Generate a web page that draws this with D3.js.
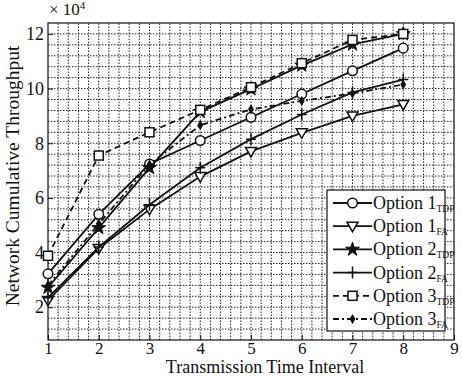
<!DOCTYPE html>
<html>
<head>
<meta charset="utf-8">
<script src="https://cdn.jsdelivr.net/npm/d3@7"></script>
<style>
  body { margin: 0; background: #fff; }
  text { font-family: "Liberation Serif", "DejaVu Serif", serif; fill: #111; }
</style>
</head>
<body>
<div id="chart"></div>
<script>
const intervals = [1, 2, 3, 4, 5, 6, 7, 8];
const opt1Tdp = [3.22, 5.4, 7.24, 8.1, 8.95, 9.8, 10.65, 11.48];
const opt1Fa  = [2.25, 4.15, 5.58, 6.78, 7.7, 8.38, 9.0, 9.42];
const opt2Tdp = [2.72, 4.9, 7.1, 9.15, 9.98, 10.85, 11.62, 12.0];
const opt2Fa  = [2.35, 4.2, 5.75, 7.1, 8.15, 9.05, 9.86, 10.33];
const opt3Tdp = [3.88, 7.55, 8.4, 9.22, 10.05, 10.93, 11.78, 12.0];
const opt3Fa  = [2.8, 5.05, 7.22, 8.66, 9.24, 9.55, 9.82, 10.15];
const xTicks = [1, 2, 3, 4, 5, 6, 7, 8, 9];
const yTicks = [2, 4, 6, 8, 10, 12];

const series = [
    { name: "Option 1", sub: "TDP", values: opt1Tdp, marker: "circle", dash: null },
    { name: "Option 1", sub: "FA", values: opt1Fa, marker: "tri", dash: null },
    { name: "Option 2", sub: "TDP", values: opt2Tdp, marker: "star", dash: null },
    { name: "Option 2", sub: "FA", values: opt2Fa, marker: "plus", dash: null },
    { name: "Option 3", sub: "TDP", values: opt3Tdp, marker: "square", dash: "6,4" },
    { name: "Option 3", sub: "FA", values: opt3Fa, marker: "diamond", dash: "6,3,2,3" }
];

const width = 462, height = 376;
const margin = { left: 48, right: 8, top: 23, bottom: 36 };

const svg = d3.select("#chart").append("svg")
    .attr("width", width)
    .attr("height", height);

const x = d3.scaleLinear().domain([1, 9]).range([margin.left, width - margin.right]);
const y = d3.scaleLinear().domain([0.8, 12.4]).range([height - margin.bottom, margin.top]);

// dotted grid
const grid = svg.append("g");
grid.selectAll("line.gx")
    .data(d3.range(1.2, 9, 0.2))
    .enter().append("line")
    .attr("x1", d => x(d)).attr("x2", d => x(d))
    .attr("y1", y(0.8)).attr("y2", y(12.4))
    .attr("stroke", "#222").attr("stroke-width", 1)
    .attr("stroke-dasharray", "1.5,1.5");
grid.selectAll("line.gy")
    .data(d3.range(1.2, 12.4, 0.4))
    .enter().append("line")
    .attr("x1", x(1)).attr("x2", x(9))
    .attr("y1", d => y(d)).attr("y2", d => y(d))
    .attr("stroke", "#222").attr("stroke-width", 1)
    .attr("stroke-dasharray", "1.5,1.5");

// axes
svg.append("g")
    .attr("transform", `translate(0,${y(0.8)})`)
    .call(d3.axisBottom(x).tickValues(xTicks).tickSize(-5).tickPadding(2).tickFormat(d3.format("d")))
    .call(g => g.select(".domain").remove())
    .call(g => g.selectAll("line").attr("stroke", "#111"))
    .call(g => g.selectAll("text").style("font-size", "17px"));

svg.append("g")
    .attr("transform", `translate(${x(1)},0)`)
    .call(d3.axisLeft(y).tickValues(yTicks).tickSize(-5).tickPadding(4).tickFormat(d3.format("d")))
    .call(g => g.select(".domain").remove())
    .call(g => g.selectAll("line").attr("stroke", "#111"))
    .call(g => g.selectAll("text").style("font-size", "18px"));

svg.append("rect")
    .attr("x", x(1)).attr("y", y(12.4))
    .attr("width", x(9) - x(1)).attr("height", y(0.8) - y(12.4))
    .attr("fill", "none").attr("stroke", "#111").attr("stroke-width", 1.2);

// exponent
const expo = svg.append("text").attr("x", 49).attr("y", 15).style("font-size", "17px");
expo.append("tspan").text("× 10");
expo.append("tspan").attr("dy", -6).style("font-size", "11px").text("4");

// axis titles
svg.append("text")
    .attr("x", 265).attr("y", 373)
    .attr("text-anchor", "middle").style("font-size", "18px")
    .text("Transmission Time Interval");
svg.append("text")
    .attr("transform", "translate(19,176) rotate(-90)")
    .attr("text-anchor", "middle").style("font-size", "19.5px")
    .text("Network Cumulative Throughput");

function drawMarker(g, type) {
    if (type === "circle") {
        g.append("circle").attr("r", 4.8).attr("fill", "#fff").attr("stroke", "#111").attr("stroke-width", 1.5);
    } else if (type === "tri") {
        g.append("path").attr("d", "M-5.5,-4L5.5,-4L0,5.5Z").attr("fill", "#fff").attr("stroke", "#111").attr("stroke-width", 1.5);
    } else if (type === "star") {
        g.append("path").attr("d", d3.symbol(d3.symbolStar, 60)()).attr("fill", "#111").attr("stroke", "#111");
    } else if (type === "plus") {
        g.append("path").attr("d", "M-5,0L5,0M0,-6L0,6").attr("stroke", "#111").attr("stroke-width", 1.5);
    } else if (type === "square") {
        g.append("rect").attr("x", -4.5).attr("y", -4.5).attr("width", 9).attr("height", 9)
            .attr("fill", "#fff").attr("stroke", "#111").attr("stroke-width", 1.5);
    } else if (type === "diamond") {
        g.append("path").attr("d", d3.symbol(d3.symbolDiamond, 30)()).attr("fill", "#111");
    }
}

const line = d3.line().x((d, i) => x(intervals[i])).y(d => y(d));

series.forEach(s => {
    svg.append("path")
        .datum(s.values)
        .attr("d", line)
        .attr("fill", "none")
        .attr("stroke", "#111")
        .attr("stroke-width", 1.8)
        .attr("stroke-dasharray", s.dash);
    s.values.forEach((v, i) => {
        const g = svg.append("g").attr("transform", `translate(${x(intervals[i])},${y(v)})`);
        drawMarker(g, s.marker);
    });
});

// legend
const lg = svg.append("g").attr("transform", "translate(327,190)");
lg.append("rect").attr("width", 118).attr("height", 141)
    .attr("fill", "#fff").attr("stroke", "#111").attr("stroke-width", 1.2);
series.forEach((s, i) => {
    const yy = 13 + i * 23.2;
    lg.append("line").attr("x1", 6).attr("x2", 45).attr("y1", yy).attr("y2", yy)
        .attr("stroke", "#111").attr("stroke-width", 1.8).attr("stroke-dasharray", s.dash);
    drawMarker(lg.append("g").attr("transform", `translate(25.5,${yy})`), s.marker);
    const t = lg.append("text").attr("x", 46).attr("y", yy + 6).style("font-size", "18px");
    t.append("tspan").text(s.name);
    t.append("tspan").attr("dy", 3).style("font-size", "9.5px").text(s.sub);
});
</script>
</body>
</html>
